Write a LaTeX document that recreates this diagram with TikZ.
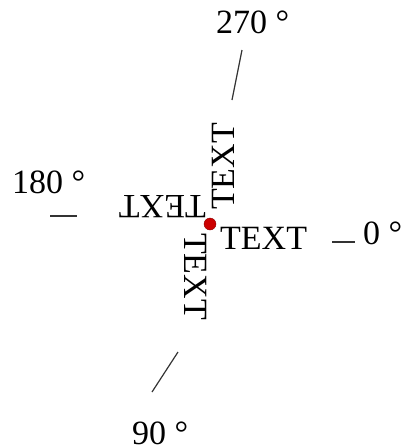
\documentclass[tikz,border=0pt]{standalone}
\usepackage{fontspec}
\setmainfont{Liberation Serif}
\usetikzlibrary{positioning}

\begin{document}
\begin{tikzpicture}[
  x=1pt, y=-1pt,
  rottext/.style={anchor=north west, inner sep=0pt, font=\fontsize{34}{40}\selectfont},
  anglbl/.style={anchor=base west, inner sep=0pt, font=\fontsize{34}{40}\selectfont},
  tick/.style={draw=black!80, line width=1.2pt},
  pivot/.style={circle, fill=red!80!black, draw=red!55!black, minimum size=12pt, inner sep=0pt}
]
  \useasboundingbox (0,0) rectangle (403,448);

  % the four rotated texts around the pivot
  \node[rottext] (t0) at (220,227) {TEXT};
  \node[rottext, rotate=-90] (t90) at (207,233) {TEXT};
  \node[rottext, rotate=180] (t180) at (206,218) {TEXT};
  \node[rottext, rotate=90] (t270) at (212,210) {TEXT};
  \node[pivot] (pivot) at (210,224) {};

  % angle labels
  \node[anglbl] (l0) at (363,244) {0 °};
  \node[anglbl] (l90) at (132,444) {90 °};
  \node[anglbl] (l180) at (12,193) {180 °};
  \node[anglbl] (l270) at (216,33) {270 °};

  % tick marks
  \coordinate (a0) at (332,242);   \coordinate (b0) at (355,242);
  \coordinate (a90) at (178,352);  \coordinate (b90) at (152,392);
  \coordinate (a180) at (50,216);  \coordinate (b180) at (77,216);
  \coordinate (a270) at (242,50);  \coordinate (b270) at (232,100);
  \draw[tick] (a0) -- (b0);
  \draw[tick] (a90) -- (b90);
  \draw[tick] (a180) -- (b180);
  \draw[tick] (a270) -- (b270);
\end{tikzpicture}
\end{document}
